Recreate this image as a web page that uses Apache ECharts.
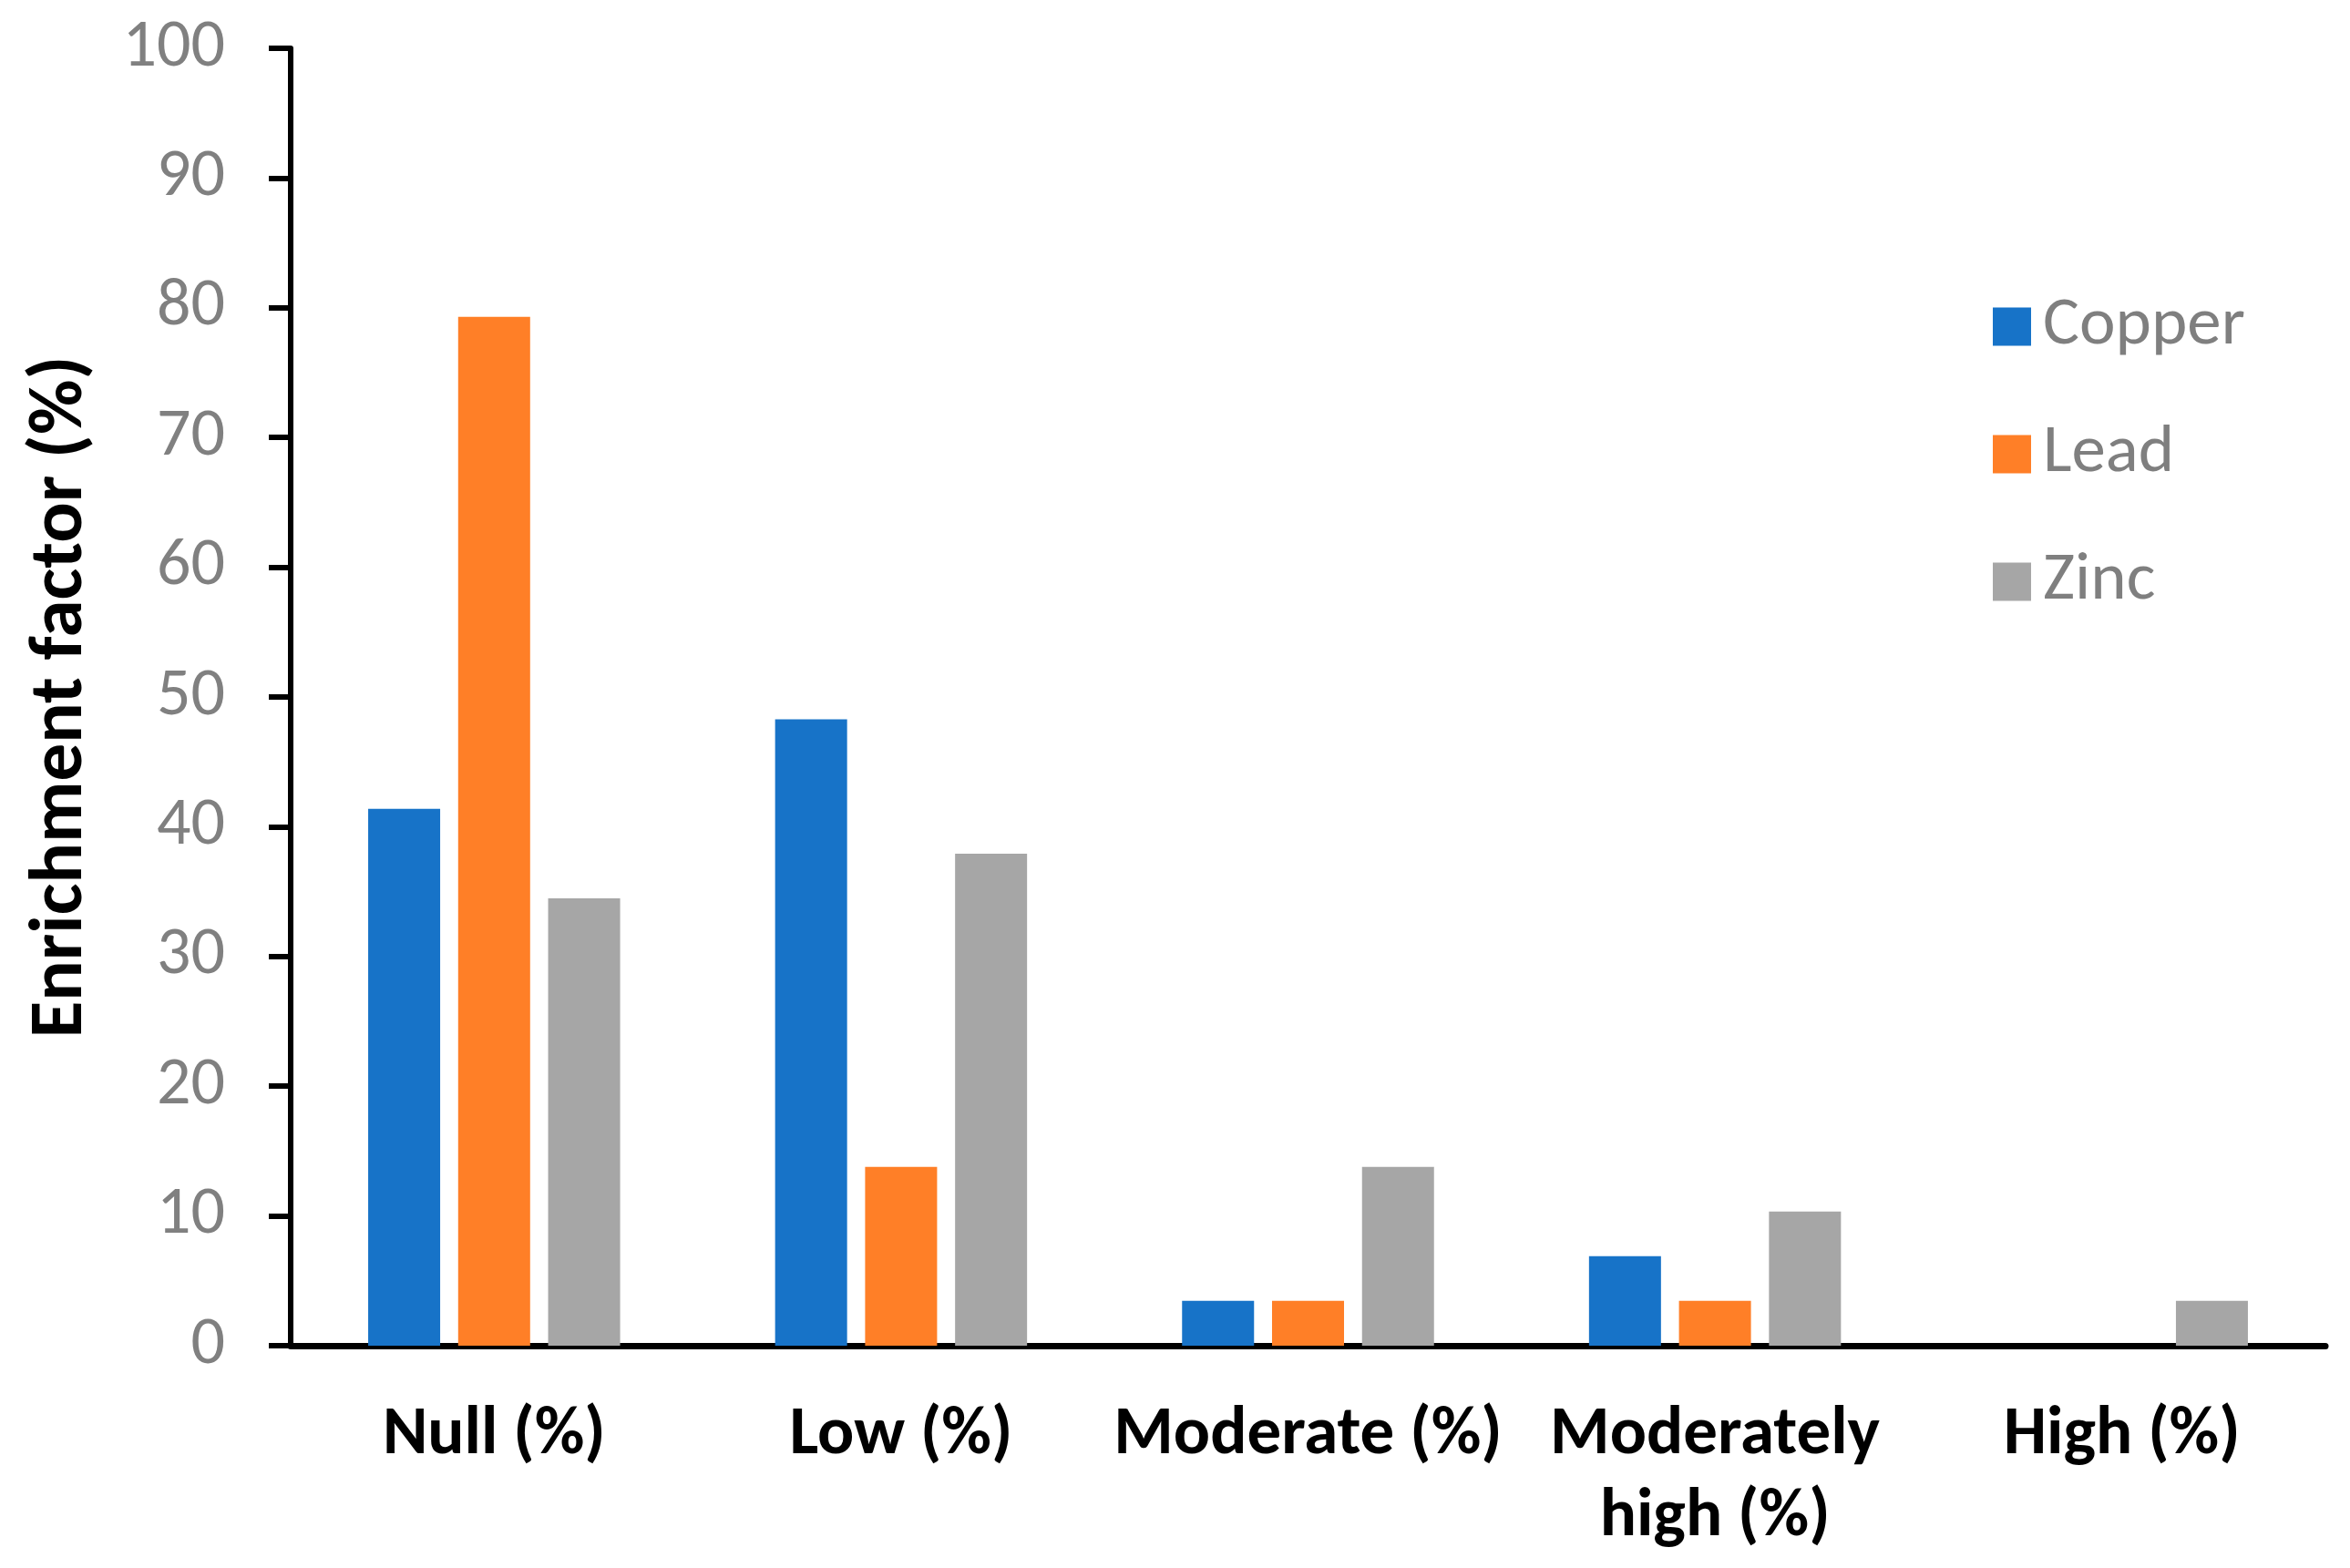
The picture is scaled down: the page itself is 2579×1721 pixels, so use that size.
<!DOCTYPE html>
<html>
<head>
<meta charset="utf-8">
<script src="https://cdn.jsdelivr.net/npm/echarts@6/dist/echarts.min.js"></script>
<style>
html,body{margin:0;padding:0;background:#fff;}
#chart{width:2579px;height:1721px;}
</style>
</head>
<body>
<div id="chart"></div>
<script>
const categories = ['Null (%)', 'Low (%)', 'Moderate (%)', 'Moderately\nhigh (%)', 'High (%)'];
const seriesNames = ['Copper', 'Lead', 'Zinc'];
const copper = [41.38, 48.28, 3.45, 6.90, 0];
const lead = [79.31, 13.79, 3.45, 3.45, 0];
const zinc = [34.48, 37.93, 13.79, 10.34, 3.45];
const colors = ['#1773C8', '#FF7F27', '#A6A6A6'];
const yTicks = { min: 0, max: 100, interval: 10 };
const yTitle = 'Enrichment factor (%)';

const FONT = 'Carlito, Lato, "DejaVu Sans", sans-serif';
const values = [copper, lead, zinc];

const chart = echarts.init(document.getElementById('chart'), null, { renderer: 'canvas' });
chart.setOption({
  backgroundColor: '#ffffff',
  animation: false,
  color: colors,
  grid: { left: 319, right: 27, top: 53, bottom: 244, containLabel: false },
  legend: {
    orient: 'vertical',
    left: 2182,
    top: 316,
    itemWidth: 42,
    itemHeight: 42,
    itemGap: 65,
    icon: 'rect',
    textStyle: { color: '#7F7F7F', fontSize: 75, fontFamily: FONT, padding: [0, 0, 0, 8] },
    data: seriesNames
  },
  xAxis: {
    type: 'category',
    data: categories,
    axisLine: { lineStyle: { color: '#000', width: 7 } },
    axisTick: { inside: true, length: 25, lineStyle: { color: '#000', width: 4 } },
    axisLabel: {
      color: '#000', fontSize: 75, fontWeight: 'bold', fontFamily: FONT,
      margin: 54, lineHeight: 90, interval: 0
    },
    splitLine: { show: false }
  },
  yAxis: {
    type: 'value',
    min: yTicks.min, max: yTicks.max, interval: yTicks.interval,
    name: yTitle,
    nameLocation: 'middle',
    nameRotate: 90,
    nameGap: 209,
    nameTextStyle: { color: '#000', fontSize: 83, fontWeight: 'bold', fontFamily: FONT },
    axisLine: { show: true, lineStyle: { color: '#000', width: 6 } },
    axisTick: { show: true, length: 24, lineStyle: { color: '#000', width: 6 } },
    axisLabel: { color: '#808080', fontSize: 74, fontFamily: FONT, margin: 72 },
    splitLine: { show: false }
  },
  series: seriesNames.map((n, i) => ({
    name: n,
    type: 'bar',
    data: values[i],
    barWidth: 79,
    barGap: '25%',
    itemStyle: { color: colors[i] }
  }))
});
</script>
</body>
</html>
